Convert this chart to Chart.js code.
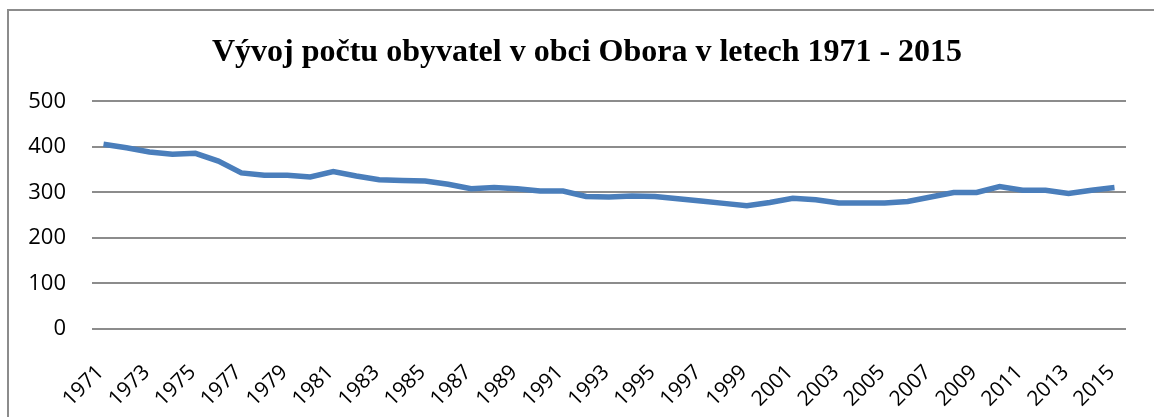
<!DOCTYPE html>
<html>
<head>
<meta charset="utf-8">
<script src="https://cdn.jsdelivr.net/npm/chart.js@4"></script>
<style>
  html, body { margin: 0; padding: 0; background: #fff; }
  #wrap { position: relative; width: 1154px; height: 417px; overflow: hidden; }
  #frame { position: absolute; left: 7px; top: 9px; width: 1200px; height: 500px;
           border-left: 2px solid #8c8c8c; border-top: 2px solid #8c8c8c; pointer-events: none; }
</style>
</head>
<body>
<div id="wrap">
  <canvas id="popChart" width="1154" height="417"></canvas>
  <div id="frame"></div>
</div>
<script>
const years = [];
for (let y = 1971; y <= 2015; y++) years.push(String(y));

const population = [406, 398, 389, 384, 386, 369, 343, 338, 338, 334,
                    346, 336, 328, 326, 325, 318, 308, 311, 308, 303,
                    303, 291, 290, 292, 291, 286, 281, 276, 271, 278,
                    287, 284, 277, 277, 277, 280, 290, 300, 300, 313,
                    305, 305, 298, 305, 311];

const yTicks = [0, 100, 200, 300, 400, 500];

document.addEventListener('DOMContentLoaded', function () {
    const ctx = document.getElementById('popChart').getContext('2d');
    new Chart(ctx, {
        type: 'line',
        data: {
            labels: years,
            datasets: [{
                label: 'Počet obyvatel',
                data: population,
                borderColor: '#4a7ebb',
                borderWidth: 5.5,
                pointRadius: 0,
                tension: 0,
                fill: false
            }]
        },
        options: {
            responsive: false,
            animation: false,
            layout: { padding: { left: 20, right: 0, top: 10, bottom: 0 } },
            scales: {
                x: {
                    offset: true,
                    grid: { display: false, drawTicks: false },
                    border: { display: false },
                    ticks: {
                        autoSkip: false,
                        maxRotation: 45,
                        minRotation: 45,
                        padding: 31,
                        labelOffset: -3,
                        color: '#000',
                        font: { family: 'Open Sans', size: 21 },
                        callback: function (val, i) {
                            return i % 2 === 0 ? years[i] : '';
                        }
                    },
                    afterFit: function (s) {
                        s.height = 88;
                        s.paddingLeft = 0;
                        s.paddingRight = 0;
                    }
                },
                y: {
                    min: 0,
                    max: 500,
                    afterBuildTicks: function (s) {
                        s.ticks = yTicks.map(v => ({ value: v }));
                    },
                    grid: { color: '#8c8c8c', lineWidth: 2, drawTicks: false },
                    border: { display: false },
                    ticks: {
                        padding: 26,
                        color: '#000',
                        font: { family: 'Open Sans', size: 22 }
                    },
                    afterFit: function (s) { s.width = 72; }
                },
                yRight: {
                    position: 'right',
                    grid: { display: false, drawTicks: false },
                    border: { display: false },
                    ticks: { display: false },
                    afterFit: function (s) { s.width = 28; }
                }
            },
            plugins: {
                legend: { display: false },
                tooltip: { enabled: false },
                title: {
                    display: true,
                    text: 'Vývoj počtu obyvatel v obci Obora v letech 1971 - 2015',
                    color: '#000',
                    font: { family: 'Liberation Serif', size: 32, weight: 'bold' },
                    padding: { top: 24, bottom: 29 }
                }
            }
        }
    });
});
</script>
</body>
</html>
